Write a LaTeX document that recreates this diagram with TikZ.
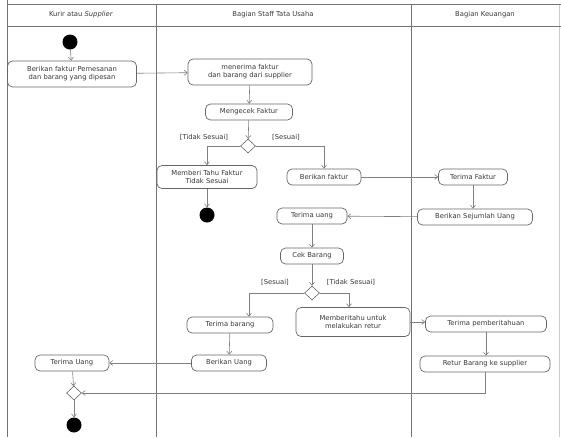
\documentclass[tikz,border=0pt]{standalone}
\usepackage{fontspec}
\setmainfont{DejaVu Sans}
\usetikzlibrary{arrows.meta,shapes.geometric}
\definecolor{lane}{gray}{0.45}
\definecolor{edge}{gray}{0.5}
\definecolor{txt}{gray}{0.22}
\tikzset{
  act/.style={draw=gray!80!black, line width=0.7pt, rounded corners=5pt, fill=white,
    font=\fontsize{6.8}{8}\selectfont, text=txt, align=center,
    inner xsep=3pt, inner ysep=2pt, minimum height=16pt},
  twoline/.style={minimum height=26pt},
  flow/.style={draw=edge, line width=0.6pt, -{Straight Barb[length=3pt,width=5pt]}},
  decision/.style={diamond, draw=gray!80!black, fill=white, line width=0.6pt,
    minimum width=15pt, minimum height=14pt, inner sep=0pt},
  startdot/.style={circle, fill=black, minimum size=15pt, inner sep=0pt},
  guard/.style={font=\fontsize{6.8}{8}\selectfont, text=txt, inner sep=1pt},
  header/.style={font=\fontsize{6.8}{8}\selectfont, text=txt}
}
\begin{document}
\begin{tikzpicture}[x=1pt, y=-1pt]
\useasboundingbox (0,0) rectangle (561,437);
% swimlane frame
\draw[lane, line width=0.8pt] (7,0) -- (7,437);
\draw[lane, line width=0.8pt] (156,4) -- (156,437);
\draw[lane, line width=0.8pt] (411,4) -- (411,437);
\draw[gray!40, line width=0.6pt] (559,4) -- (559,437);
\draw[lane, line width=0.7pt] (7,4) -- (561,4);
\draw[lane, line width=0.7pt] (7,26) -- (561,26);
\node[header] (h1) at (81,15) {Kurir atau \textit{Supplier}};
\node[header] (h2) at (273,15) {Bagian Staff Tata Usaha};
\node[header] (h3) at (485,15) {Bagian Keuangan};

% supplier lane
\node[startdot] (s) at (70,42) {};
\node[act, twoline, minimum width=129pt] (a1) at (72,74) {Berikan faktur Pemesanan\\dan barang yang dipesan};
% staff lane
\node[act, twoline, minimum width=124pt] (a2) at (250,72) {menerima faktur\\dan barang dari supplier};
\node[act, minimum width=87pt] (a3) at (249,112) {Mengecek Faktur};
\node[decision] (d1) at (248,146) {};
\node[act, minimum width=100pt, minimum height=23pt] (a4) at (207,177) {Memberi Tahu Faktur\\Tidak Sesuai};
\node[startdot] (e1) at (207,215) {};
\node[act, minimum width=74pt] (a5) at (324,177) {Berikan faktur};
\node[act, minimum width=70pt] (a8) at (312,216) {Terima uang};
\node[act, minimum width=63pt] (a9) at (312,256) {Cek Barang};
\node[decision] (d2) at (312,293) {};
\node[act, minimum width=86pt] (a10) at (230,325) {Terima barang};
\node[act, twoline, minimum width=114pt, minimum height=29pt] (a11) at (353,322) {Memberitahu untuk\\melakukan retur};
\node[act, minimum width=75pt] (a12) at (229,363) {Berikan Uang};
% finance lane
\node[act, minimum width=69pt] (a6) at (473,177) {Terima Faktur};
\node[act, minimum width=115pt] (a7) at (475,217) {Berikan Sejumlah Uang};
\node[act, minimum width=121pt] (a13) at (486,324) {Terima pemberitahuan};
\node[act, minimum width=130pt] (a14) at (485,364) {Retur Barang ke supplier};
% supplier lane, closing part
\node[act, minimum width=74pt] (a15) at (72,363) {Terima Uang};
\node[decision] (d3) at (74,393) {};
\node[startdot] (e2) at (74,425) {};

% guards
\node[guard] (g1) at (204,137) {[Tidak Sesuai]};
\node[guard] (g2) at (286,137) {[Sesuai]};
\node[guard] (g3) at (275,282) {[Sesuai]};
\node[guard] (g4) at (351,282) {[Tidak Sesuai]};

% flows
\draw[flow] (s) -- (a1);
\draw[flow] (a1) -- (a2);
\draw[flow] (a2) -- (a3);
\draw[flow] (a3) -- (d1);
\draw[flow] (d1.west) -| (a4.north);
\draw[flow] (d1.east) -| (a5.north);
\draw[flow] (a4) -- (e1);
\draw[flow] (a5) -- (a6);
\draw[flow] (a6) -- (a7.north -| a6);
\draw[flow] (a7) -- (a8);
\draw[flow] (a8) -- (a9);
\draw[flow] (a9) -- (d2);
\draw[flow] (d2.west) -| ([xshift=19pt]a10.north);
\draw[flow] (d2.east) -| ([xshift=-4pt]a11.north);
\draw[flow] (a11.east) -- (a11.east -| a13.west);
\draw[flow] (a13) -- (a13 |- a14.north);
\draw[flow] (a10) -- (a12);
\draw[flow] (a12) -- (a15);
\draw[flow] (a15) -- (d3);
\draw[flow] (a14.south) |- (d3.east);
\draw[flow] (d3) -- (e2);
\end{tikzpicture}
\end{document}
